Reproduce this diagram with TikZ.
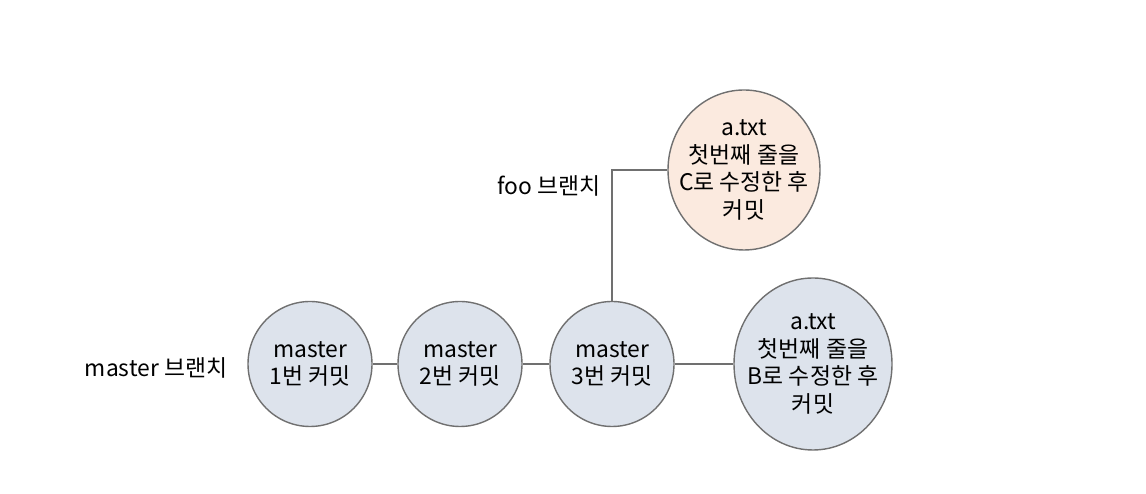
\documentclass[tikz,border=0pt]{standalone}
\usepackage{fontspec}
\setmainfont{Noto Sans CJK KR}
\usetikzlibrary{shapes.geometric}
\definecolor{commitblue}{HTML}{DDE3EC}
\definecolor{commitpeach}{HTML}{FBEADF}
\definecolor{edgegray}{HTML}{707070}

\begin{document}
\begin{tikzpicture}[
commit/.style={ellipse,draw=edgegray,line width=0.8pt,fill=commitblue,align=center,inner sep=0pt,font=\fontsize{13}{15.8}\selectfont},
bigcommit/.style={commit,inner xsep=-4mm,inner ysep=-3mm},
branch/.style={font=\fontsize{13}{15.8}\selectfont,inner sep=0pt},
link/.style={draw=edgegray,line width=0.7pt}]
\useasboundingbox (0,0) rectangle (22.92,9.88);
\node[branch] (masterlabel) at (3.12,2.52) {master 브랜치};
\node[branch] (foolabel) at (10.98,6.16) {foo 브랜치};
\node[commit,minimum width=2.48cm,minimum height=2.5cm] (m1) at (6.20,2.60) {master\\1번 커밋};
\node[commit,minimum width=2.48cm,minimum height=2.5cm] (m2) at (9.20,2.60) {master\\2번 커밋};
\node[commit,minimum width=2.48cm,minimum height=2.5cm] (m3) at (12.24,2.60) {master\\3번 커밋};
\node[bigcommit,minimum width=3.16cm,minimum height=3.44cm] (mb) at (16.26,2.60) {a.txt\\첫번째 줄을\\B로 수정한 후\\커밋};
\node[bigcommit,fill=commitpeach,minimum width=3.04cm,minimum height=3.2cm] (fc) at (14.88,6.48) {a.txt\\첫번째 줄을\\C로 수정한 후\\커밋};
\draw[link] (m1) -- (m2);
\draw[link] (m2) -- (m3);
\draw[link] (m3) -- (mb);
\draw[link] (m3.north) |- (fc.west);
\end{tikzpicture}
\end{document}
